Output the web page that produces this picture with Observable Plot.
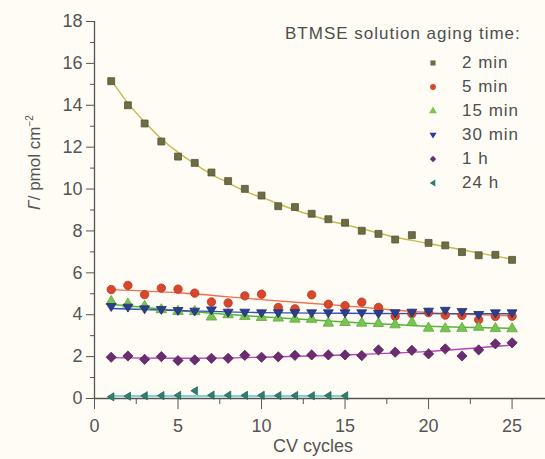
<!DOCTYPE html>
<html><head><meta charset="utf-8">
<script src="https://cdn.jsdelivr.net/npm/d3@7"></script>
<script src="https://cdn.jsdelivr.net/npm/@observablehq/plot@0.6"></script>
<style>
html,body{margin:0;padding:0;background:#fffcf6;}
#chart{position:relative;width:545px;height:459px;font-family:"Liberation Sans",Arial,sans-serif;color:#555;}
#chart > svg{display:block;}
.lg{position:absolute;font-size:17px;letter-spacing:1px;line-height:20px;color:#4e4e4e;white-space:nowrap;}
.lg svg{display:inline-block;vertical-align:top;margin-right:22px;}
</style></head><body><div id="chart"></div>
<script>
// ---- data ----
const cycles = [1,2,3,4,5,6,7,8,9,10,11,12,13,14,15,16,17,18,19,20,21,22,23,24,25];
const cycles24h = [1,2,3,4,5,6,7,8,9,10,11,12,13,14,15];
const min2  = [15.15,14.0,13.13,12.27,11.55,11.25,10.79,10.38,10.01,9.69,9.18,9.14,8.82,8.56,8.39,8.01,7.86,7.59,7.80,7.43,7.31,6.99,6.84,6.86,6.62];
const min5  = [5.20,5.40,4.96,5.27,5.22,5.03,4.61,4.56,4.90,4.98,4.35,4.28,4.95,4.50,4.43,4.60,4.35,3.93,4.05,4.10,3.98,3.97,3.76,3.92,3.93];
const min15 = [4.63,4.51,4.40,4.24,4.16,4.15,3.89,4.00,3.92,3.87,3.84,3.79,3.78,3.60,3.63,3.60,3.58,3.52,3.62,3.36,3.33,3.35,3.40,3.34,3.33];
const min30 = [4.38,4.35,4.27,4.24,4.19,4.16,4.22,4.11,4.11,4.08,4.08,4.08,4.08,4.08,4.08,4.08,4.05,4.08,4.11,4.16,4.20,4.14,4.00,4.08,4.08];
const h1    = [1.97,2.03,1.87,2.00,1.81,1.84,1.92,1.92,2.06,1.97,1.99,2.06,2.08,2.08,2.08,2.05,2.32,2.21,2.30,2.13,2.37,2.03,2.32,2.61,2.66];
const h24   = [0.08,0.11,0.13,0.14,0.15,0.37,0.16,0.16,0.15,0.15,0.14,0.14,0.13,0.14,0.13];
// fitted curves
const fit2  = [15.2,14.1,13.2,12.4,11.75,11.2,10.7,10.3,9.9,9.6,9.3,9.0,8.75,8.5,8.3,8.1,7.9,7.7,7.55,7.4,7.25,7.1,6.95,6.8,6.65];
const fitX  = [1,5,10,15,20,25];
const fit5  = [5.2,5.05,4.72,4.42,4.1,3.95];
const fit15 = [4.5,4.2,3.9,3.65,3.45,3.35];
const fit30 = [4.3,4.2,4.1,4.07,4.05,4.05];
const fit1h = [1.95,1.92,1.97,2.08,2.25,2.55];
const fit24X = [1,15];
const fit24 = [0.12,0.12];
const seriesNames = ["2 min","5 min","15 min","30 min","1 h","24 h"];
const legendTitle = "BTMSE solution aging time:";
const xMajor = [0,5,10,15,20,25];
const xMinor = [2.5,7.5,12.5,17.5,22.5];
const yMajor = [0,2,4,6,8,10,12,14,16,18];
const yMinor = [1,3,5,7,9,11,13,15,17];

// ---- symbols ----
const triDown = {draw(c, size){ const r = Math.sqrt(size)*0.7; c.moveTo(-r,-r*0.65); c.lineTo(r,-r*0.65); c.lineTo(0,r*0.95); c.closePath(); }};
const triLeft = {draw(c, size){ const r = Math.sqrt(size)*0.7; c.moveTo(r*0.65,-r); c.lineTo(r*0.65,r); c.lineTo(-r*0.95,0); c.closePath(); }};

const styles = [
  {fill:"#6d6c45", stroke:"#555433", line:"#c9b94f", symbol:"square", r:3.9},
  {fill:"#d9462c", stroke:"#b43520", line:"#f0714f", symbol:"circle", r:4.2},
  {fill:"#78c452", stroke:"#5ca83c", line:"#4fb83a", symbol:"triangle", r:3.9},
  {fill:"#2b3f8c", stroke:"#1f2f70", line:"#3553b5", symbol:triDown, r:4.0},
  {fill:"#6b2d70", stroke:"#52205a", line:"#b545b8", symbol:"diamond2", r:4.6},
  {fill:"#2f7f70", stroke:"#256658", line:"#52c8c8", symbol:triLeft, r:3.3}
];
const ys = [min2,min5,min15,min30,h1,h24];
const xs = [cycles,cycles,cycles,cycles,cycles,cycles24h];
const fits = [[cycles,fit2],[fitX,fit5],[fitX,fit15],[fitX,fit30],[fitX,fit1h],[fit24X,fit24]];

const fitMarks = fits.map(([fx,fy],k) => Plot.line(fx.map((x,i)=>({x, y: fy[i]})), {x:"x", y:"y", stroke: styles[k].line, strokeWidth: 1.4, curve: k===0 ? "natural" : "monotone-x"}));
const dotMarks = ys.map((yv,k) => Plot.dot(xs[k].map((x,i)=>({x, y: yv[i]})), {x:"x", y:"y", symbol: styles[k].symbol, r: styles[k].r, fill: styles[k].fill, stroke: styles[k].stroke, strokeWidth: 0.8}));

const plot = Plot.plot({
  width: 545, height: 459,
  marginLeft: 94, marginRight: 0, marginTop: 21, marginBottom: 61,
  x: {domain: [0, 27]},
  y: {domain: [0, 18]},
  style: {background: "transparent", fontFamily: "'Liberation Sans', Arial, sans-serif", color: "#555"},
  marks: [
    Plot.axisY({ticks: yMajor, tickSize: 8, tickPadding: 4, fontSize: 18, label: null}),
    Plot.axisY({ticks: yMinor, tickSize: 4, tickFormat: () => "", label: null}),
    Plot.axisX({ticks: xMajor, tickSize: 11, tickPadding: 10, fontSize: 18, label: null}),
    Plot.axisX({ticks: xMinor, tickSize: 6, tickFormat: () => "", label: null}),
    Plot.ruleY([0], {stroke: "#555", strokeWidth: 1.3}),
    Plot.ruleX([0], {y1: 0, y2: 18, stroke: "#555", strokeWidth: 1.3}),
    ...fitMarks,
    ...dotMarks,
    Plot.text(["CV cycles"], {frameAnchor: "bottom", dy: 53, dx: -7, fontSize: 18, fill: "#555"}),
    Plot.text(["Γ/ pmol cm"], {frameAnchor: "left", dx: -60, rotate: -90, fontSize: 17, fill: "#555"})
  ]
});
const chart = document.getElementById("chart");
chart.appendChild(plot);

// rich y label
d3.select(plot).selectAll("text").filter(function(){ return this.textContent === "Γ/ pmol cm"; }).each(function(){
  const t = d3.select(this); t.text(null);
  t.append("tspan").attr("font-style","italic").text("Γ");
  t.append("tspan").text("/ pmol cm");
  t.append("tspan").attr("font-size", 10).attr("dy", "-0.7em").text("−2");
});

// legend overlay
const title = document.createElement("div");
title.className = "lg"; title.style.left = "285px"; title.style.top = "24px"; title.textContent = legendTitle;
chart.appendChild(title);
const symMap = {square:d3.symbolSquare, circle:d3.symbolCircle, triangle:d3.symbolTriangle, diamond2:d3.symbolDiamond2};
seriesNames.forEach((name, i) => {
  const row = document.createElement("div");
  row.className = "lg"; row.style.left = "426px"; row.style.top = (53 + i*24) + "px";
  const s = d3.create("svg").attr("width", 14).attr("height", 20);
  const sym = typeof styles[i].symbol === "string" ? symMap[styles[i].symbol] : styles[i].symbol;
  s.append("path").attr("transform", "translate(7,10)").attr("d", d3.symbol(sym, 26)()).attr("fill", styles[i].fill);
  row.appendChild(s.node());
  row.appendChild(document.createTextNode(name));
  chart.appendChild(row);
});
</script>
</body></html>
